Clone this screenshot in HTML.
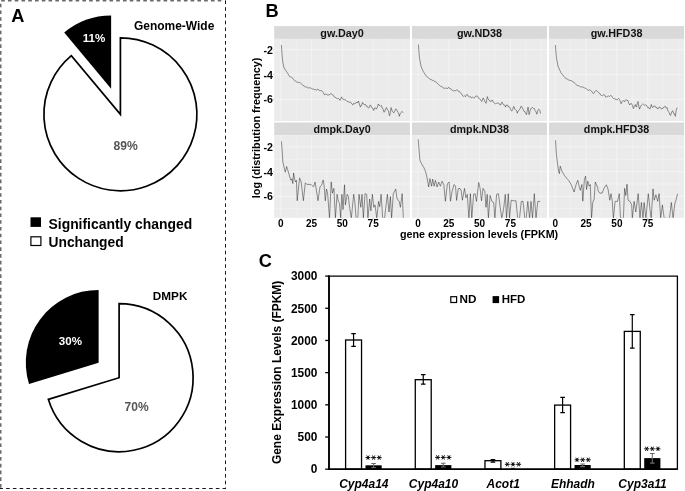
<!DOCTYPE html>
<html><head><meta charset="utf-8"><style>
html,body{margin:0;padding:0;background:#fff;width:685px;height:491px;overflow:hidden}
svg{display:block;will-change:transform}
text{font-family:"Liberation Sans", sans-serif;-webkit-font-smoothing:antialiased}
</style></head><body>
<svg width="685" height="491" viewBox="0 0 685 491">
<line x1="1.2" y1="0.75" x2="224" y2="0.75" stroke="#6a6a6a" stroke-width="1.5" stroke-dasharray="3.6 3.166"/>
<line x1="0.75" y1="3.7" x2="0.75" y2="488" stroke="#6a6a6a" stroke-width="1.5" stroke-dasharray="3.6 3.166"/>
<line x1="225.5" y1="0.4" x2="225.5" y2="489" stroke="#1a1a1a" stroke-width="1" stroke-dasharray="3.6 3.166"/>
<line x1="-0.666" y1="488.5" x2="226" y2="488.5" stroke="#1a1a1a" stroke-width="1" stroke-dasharray="3.6 3.166"/>
<path d="M120.40,114.30 L120.40,37.80 A76.5,76.5 0 1 1 71.33,55.61 Z" fill="#fff" stroke="#000" stroke-width="1.7" stroke-linejoin="miter"/>
<path d="M111.10,88.70 L64.21,32.62 A73.1,73.1 0 0 1 111.10,15.60 Z" fill="#000"/>
<path d="M119.10,377.70 L119.10,303.70 A74.0,74.0 0 1 1 48.33,399.34 Z" fill="#fff" stroke="#000" stroke-width="1.7" stroke-linejoin="miter"/>
<path d="M98.60,362.70 L28.98,383.98 A72.8,72.8 0 0 1 98.60,289.90 Z" fill="#000"/>
<text x="11.3" y="21.7" font-size="18.2" text-anchor="start" fill="#000" font-weight="bold" font-style="normal" >A</text>
<text x="94.0" y="41.7" font-size="11.6" text-anchor="middle" fill="#fff" font-weight="bold" font-style="normal" >11%</text>
<text x="125.6" y="149.8" font-size="12.5" text-anchor="middle" fill="#555" font-weight="bold" font-style="normal" textLength="24.3" lengthAdjust="spacingAndGlyphs" >89%</text>
<text x="134.0" y="29.8" font-size="12" text-anchor="start" fill="#000" font-weight="bold" font-style="normal" textLength="80.3" lengthAdjust="spacingAndGlyphs" >Genome-Wide</text>
<text x="70.4" y="344.8" font-size="11.6" text-anchor="middle" fill="#fff" font-weight="bold" font-style="normal" >30%</text>
<text x="136.6" y="411.3" font-size="12.5" text-anchor="middle" fill="#555" font-weight="bold" font-style="normal" textLength="24.0" lengthAdjust="spacingAndGlyphs" >70%</text>
<text x="152.8" y="299.6" font-size="11.8" text-anchor="start" fill="#000" font-weight="bold" font-style="normal" textLength="34.6" lengthAdjust="spacingAndGlyphs" >DMPK</text>
<rect x="30.5" y="217.3" width="10.5" height="9.6" fill="#000"/>
<rect x="30.9" y="236.8" width="10.0" height="8.7" fill="#fff" stroke="#000" stroke-width="1.2"/>
<text x="48.5" y="228.6" font-size="13.8" text-anchor="start" fill="#000" font-weight="bold" font-style="normal" textLength="143.7" lengthAdjust="spacingAndGlyphs" >Significantly changed</text>
<text x="48.5" y="246.6" font-size="13.8" text-anchor="start" fill="#000" font-weight="bold" font-style="normal" >Unchanged</text>
<rect x="274.2" y="26.1" width="135.70" height="12.80" fill="#d9d9d9"/>
<rect x="274.2" y="38.9" width="135.70" height="82.10" fill="#ebebeb"/>
<line x1="274.2" x2="409.9" y1="49.60" y2="49.60" stroke="#fff" stroke-opacity="0.38" stroke-width="1.1"/>
<line x1="274.2" x2="409.9" y1="74.50" y2="74.50" stroke="#fff" stroke-opacity="0.38" stroke-width="1.1"/>
<line x1="274.2" x2="409.9" y1="99.40" y2="99.40" stroke="#fff" stroke-opacity="0.38" stroke-width="1.1"/>
<line x1="296.15" x2="296.15" y1="38.9" y2="121.0" stroke="#fff" stroke-opacity="0.28" stroke-width="0.9"/>
<line x1="326.96" x2="326.96" y1="38.9" y2="121.0" stroke="#fff" stroke-opacity="0.28" stroke-width="0.9"/>
<line x1="357.77" x2="357.77" y1="38.9" y2="121.0" stroke="#fff" stroke-opacity="0.28" stroke-width="0.9"/>
<line x1="388.58" x2="388.58" y1="38.9" y2="121.0" stroke="#fff" stroke-opacity="0.28" stroke-width="0.9"/>
<line x1="403.99" x2="403.99" y1="38.9" y2="121.0" stroke="#fff" stroke-opacity="0.28" stroke-width="0.9"/>
<line x1="280.75" x2="280.75" y1="38.9" y2="121.0" stroke="#fff" stroke-opacity="0.38" stroke-width="1.1"/>
<line x1="311.56" x2="311.56" y1="38.9" y2="121.0" stroke="#fff" stroke-opacity="0.38" stroke-width="1.1"/>
<line x1="342.37" x2="342.37" y1="38.9" y2="121.0" stroke="#fff" stroke-opacity="0.38" stroke-width="1.1"/>
<line x1="373.18" x2="373.18" y1="38.9" y2="121.0" stroke="#fff" stroke-opacity="0.38" stroke-width="1.1"/>
<rect x="274.2" y="122.5" width="135.70" height="12.60" fill="#d9d9d9"/>
<rect x="274.2" y="135.1" width="135.70" height="82.70" fill="#ebebeb"/>
<line x1="274.2" x2="409.9" y1="159.28" y2="159.28" stroke="#fff" stroke-opacity="0.38" stroke-width="0.9"/>
<line x1="274.2" x2="409.9" y1="184.03" y2="184.03" stroke="#fff" stroke-opacity="0.38" stroke-width="0.9"/>
<line x1="274.2" x2="409.9" y1="208.78" y2="208.78" stroke="#fff" stroke-opacity="0.38" stroke-width="0.9"/>
<line x1="274.2" x2="409.9" y1="146.90" y2="146.90" stroke="#fff" stroke-opacity="0.38" stroke-width="1.1"/>
<line x1="274.2" x2="409.9" y1="171.65" y2="171.65" stroke="#fff" stroke-opacity="0.38" stroke-width="1.1"/>
<line x1="274.2" x2="409.9" y1="196.40" y2="196.40" stroke="#fff" stroke-opacity="0.38" stroke-width="1.1"/>
<line x1="296.15" x2="296.15" y1="135.1" y2="217.8" stroke="#fff" stroke-opacity="0.28" stroke-width="0.9"/>
<line x1="326.96" x2="326.96" y1="135.1" y2="217.8" stroke="#fff" stroke-opacity="0.28" stroke-width="0.9"/>
<line x1="357.77" x2="357.77" y1="135.1" y2="217.8" stroke="#fff" stroke-opacity="0.28" stroke-width="0.9"/>
<line x1="388.58" x2="388.58" y1="135.1" y2="217.8" stroke="#fff" stroke-opacity="0.28" stroke-width="0.9"/>
<line x1="403.99" x2="403.99" y1="135.1" y2="217.8" stroke="#fff" stroke-opacity="0.28" stroke-width="0.9"/>
<line x1="280.75" x2="280.75" y1="135.1" y2="217.8" stroke="#fff" stroke-opacity="0.38" stroke-width="1.1"/>
<line x1="311.56" x2="311.56" y1="135.1" y2="217.8" stroke="#fff" stroke-opacity="0.38" stroke-width="1.1"/>
<line x1="342.37" x2="342.37" y1="135.1" y2="217.8" stroke="#fff" stroke-opacity="0.38" stroke-width="1.1"/>
<line x1="373.18" x2="373.18" y1="135.1" y2="217.8" stroke="#fff" stroke-opacity="0.38" stroke-width="1.1"/>
<rect x="412.0" y="26.1" width="135.00" height="12.80" fill="#d9d9d9"/>
<rect x="412.0" y="38.9" width="135.00" height="82.10" fill="#ebebeb"/>
<line x1="412.0" x2="547.0" y1="49.60" y2="49.60" stroke="#fff" stroke-opacity="0.38" stroke-width="1.1"/>
<line x1="412.0" x2="547.0" y1="74.50" y2="74.50" stroke="#fff" stroke-opacity="0.38" stroke-width="1.1"/>
<line x1="412.0" x2="547.0" y1="99.40" y2="99.40" stroke="#fff" stroke-opacity="0.38" stroke-width="1.1"/>
<line x1="433.40" x2="433.40" y1="38.9" y2="121.0" stroke="#fff" stroke-opacity="0.28" stroke-width="0.9"/>
<line x1="464.21" x2="464.21" y1="38.9" y2="121.0" stroke="#fff" stroke-opacity="0.28" stroke-width="0.9"/>
<line x1="495.02" x2="495.02" y1="38.9" y2="121.0" stroke="#fff" stroke-opacity="0.28" stroke-width="0.9"/>
<line x1="525.84" x2="525.84" y1="38.9" y2="121.0" stroke="#fff" stroke-opacity="0.28" stroke-width="0.9"/>
<line x1="541.24" x2="541.24" y1="38.9" y2="121.0" stroke="#fff" stroke-opacity="0.28" stroke-width="0.9"/>
<line x1="418.00" x2="418.00" y1="38.9" y2="121.0" stroke="#fff" stroke-opacity="0.38" stroke-width="1.1"/>
<line x1="448.81" x2="448.81" y1="38.9" y2="121.0" stroke="#fff" stroke-opacity="0.38" stroke-width="1.1"/>
<line x1="479.62" x2="479.62" y1="38.9" y2="121.0" stroke="#fff" stroke-opacity="0.38" stroke-width="1.1"/>
<line x1="510.43" x2="510.43" y1="38.9" y2="121.0" stroke="#fff" stroke-opacity="0.38" stroke-width="1.1"/>
<rect x="412.0" y="122.5" width="135.00" height="12.60" fill="#d9d9d9"/>
<rect x="412.0" y="135.1" width="135.00" height="82.70" fill="#ebebeb"/>
<line x1="412.0" x2="547.0" y1="159.28" y2="159.28" stroke="#fff" stroke-opacity="0.38" stroke-width="0.9"/>
<line x1="412.0" x2="547.0" y1="184.03" y2="184.03" stroke="#fff" stroke-opacity="0.38" stroke-width="0.9"/>
<line x1="412.0" x2="547.0" y1="208.78" y2="208.78" stroke="#fff" stroke-opacity="0.38" stroke-width="0.9"/>
<line x1="412.0" x2="547.0" y1="146.90" y2="146.90" stroke="#fff" stroke-opacity="0.38" stroke-width="1.1"/>
<line x1="412.0" x2="547.0" y1="171.65" y2="171.65" stroke="#fff" stroke-opacity="0.38" stroke-width="1.1"/>
<line x1="412.0" x2="547.0" y1="196.40" y2="196.40" stroke="#fff" stroke-opacity="0.38" stroke-width="1.1"/>
<line x1="433.40" x2="433.40" y1="135.1" y2="217.8" stroke="#fff" stroke-opacity="0.28" stroke-width="0.9"/>
<line x1="464.21" x2="464.21" y1="135.1" y2="217.8" stroke="#fff" stroke-opacity="0.28" stroke-width="0.9"/>
<line x1="495.02" x2="495.02" y1="135.1" y2="217.8" stroke="#fff" stroke-opacity="0.28" stroke-width="0.9"/>
<line x1="525.84" x2="525.84" y1="135.1" y2="217.8" stroke="#fff" stroke-opacity="0.28" stroke-width="0.9"/>
<line x1="541.24" x2="541.24" y1="135.1" y2="217.8" stroke="#fff" stroke-opacity="0.28" stroke-width="0.9"/>
<line x1="418.00" x2="418.00" y1="135.1" y2="217.8" stroke="#fff" stroke-opacity="0.38" stroke-width="1.1"/>
<line x1="448.81" x2="448.81" y1="135.1" y2="217.8" stroke="#fff" stroke-opacity="0.38" stroke-width="1.1"/>
<line x1="479.62" x2="479.62" y1="135.1" y2="217.8" stroke="#fff" stroke-opacity="0.38" stroke-width="1.1"/>
<line x1="510.43" x2="510.43" y1="135.1" y2="217.8" stroke="#fff" stroke-opacity="0.38" stroke-width="1.1"/>
<rect x="549.0" y="26.1" width="135.10" height="12.80" fill="#d9d9d9"/>
<rect x="549.0" y="38.9" width="135.10" height="82.10" fill="#ebebeb"/>
<line x1="549.0" x2="684.1" y1="49.60" y2="49.60" stroke="#fff" stroke-opacity="0.38" stroke-width="1.1"/>
<line x1="549.0" x2="684.1" y1="74.50" y2="74.50" stroke="#fff" stroke-opacity="0.38" stroke-width="1.1"/>
<line x1="549.0" x2="684.1" y1="99.40" y2="99.40" stroke="#fff" stroke-opacity="0.38" stroke-width="1.1"/>
<line x1="570.70" x2="570.70" y1="38.9" y2="121.0" stroke="#fff" stroke-opacity="0.28" stroke-width="0.9"/>
<line x1="601.51" x2="601.51" y1="38.9" y2="121.0" stroke="#fff" stroke-opacity="0.28" stroke-width="0.9"/>
<line x1="632.32" x2="632.32" y1="38.9" y2="121.0" stroke="#fff" stroke-opacity="0.28" stroke-width="0.9"/>
<line x1="663.13" x2="663.13" y1="38.9" y2="121.0" stroke="#fff" stroke-opacity="0.28" stroke-width="0.9"/>
<line x1="678.54" x2="678.54" y1="38.9" y2="121.0" stroke="#fff" stroke-opacity="0.28" stroke-width="0.9"/>
<line x1="555.30" x2="555.30" y1="38.9" y2="121.0" stroke="#fff" stroke-opacity="0.38" stroke-width="1.1"/>
<line x1="586.11" x2="586.11" y1="38.9" y2="121.0" stroke="#fff" stroke-opacity="0.38" stroke-width="1.1"/>
<line x1="616.92" x2="616.92" y1="38.9" y2="121.0" stroke="#fff" stroke-opacity="0.38" stroke-width="1.1"/>
<line x1="647.73" x2="647.73" y1="38.9" y2="121.0" stroke="#fff" stroke-opacity="0.38" stroke-width="1.1"/>
<rect x="549.0" y="122.5" width="135.10" height="12.60" fill="#d9d9d9"/>
<rect x="549.0" y="135.1" width="135.10" height="82.70" fill="#ebebeb"/>
<line x1="549.0" x2="684.1" y1="159.28" y2="159.28" stroke="#fff" stroke-opacity="0.38" stroke-width="0.9"/>
<line x1="549.0" x2="684.1" y1="184.03" y2="184.03" stroke="#fff" stroke-opacity="0.38" stroke-width="0.9"/>
<line x1="549.0" x2="684.1" y1="208.78" y2="208.78" stroke="#fff" stroke-opacity="0.38" stroke-width="0.9"/>
<line x1="549.0" x2="684.1" y1="146.90" y2="146.90" stroke="#fff" stroke-opacity="0.38" stroke-width="1.1"/>
<line x1="549.0" x2="684.1" y1="171.65" y2="171.65" stroke="#fff" stroke-opacity="0.38" stroke-width="1.1"/>
<line x1="549.0" x2="684.1" y1="196.40" y2="196.40" stroke="#fff" stroke-opacity="0.38" stroke-width="1.1"/>
<line x1="570.70" x2="570.70" y1="135.1" y2="217.8" stroke="#fff" stroke-opacity="0.28" stroke-width="0.9"/>
<line x1="601.51" x2="601.51" y1="135.1" y2="217.8" stroke="#fff" stroke-opacity="0.28" stroke-width="0.9"/>
<line x1="632.32" x2="632.32" y1="135.1" y2="217.8" stroke="#fff" stroke-opacity="0.28" stroke-width="0.9"/>
<line x1="663.13" x2="663.13" y1="135.1" y2="217.8" stroke="#fff" stroke-opacity="0.28" stroke-width="0.9"/>
<line x1="678.54" x2="678.54" y1="135.1" y2="217.8" stroke="#fff" stroke-opacity="0.28" stroke-width="0.9"/>
<line x1="555.30" x2="555.30" y1="135.1" y2="217.8" stroke="#fff" stroke-opacity="0.38" stroke-width="1.1"/>
<line x1="586.11" x2="586.11" y1="135.1" y2="217.8" stroke="#fff" stroke-opacity="0.38" stroke-width="1.1"/>
<line x1="616.92" x2="616.92" y1="135.1" y2="217.8" stroke="#fff" stroke-opacity="0.38" stroke-width="1.1"/>
<line x1="647.73" x2="647.73" y1="135.1" y2="217.8" stroke="#fff" stroke-opacity="0.38" stroke-width="1.1"/>
<text x="342.05" y="36.50" font-size="10.2" text-anchor="middle" fill="#111" font-weight="bold" font-style="normal" textLength="43.4" lengthAdjust="spacingAndGlyphs" >gw.Day0</text>
<text x="479.50" y="36.50" font-size="10.2" text-anchor="middle" fill="#111" font-weight="bold" font-style="normal" textLength="45.2" lengthAdjust="spacingAndGlyphs" >gw.ND38</text>
<text x="616.55" y="36.50" font-size="10.2" text-anchor="middle" fill="#111" font-weight="bold" font-style="normal" textLength="51.7" lengthAdjust="spacingAndGlyphs" >gw.HFD38</text>
<text x="342.05" y="132.90" font-size="10.2" text-anchor="middle" fill="#111" font-weight="bold" font-style="normal" textLength="57.1" lengthAdjust="spacingAndGlyphs" >dmpk.Day0</text>
<text x="479.50" y="132.90" font-size="10.2" text-anchor="middle" fill="#111" font-weight="bold" font-style="normal" textLength="58.9" lengthAdjust="spacingAndGlyphs" >dmpk.ND38</text>
<text x="616.55" y="132.90" font-size="10.2" text-anchor="middle" fill="#111" font-weight="bold" font-style="normal" textLength="65.4" lengthAdjust="spacingAndGlyphs" >dmpk.HFD38</text>
<defs><clipPath id="c00"><rect x="274.2" y="38.9" width="135.70" height="82.10"/></clipPath><clipPath id="c01"><rect x="412.0" y="38.9" width="135.00" height="82.10"/></clipPath><clipPath id="c02"><rect x="549.0" y="38.9" width="135.10" height="82.10"/></clipPath><clipPath id="c10"><rect x="274.2" y="135.1" width="135.70" height="82.70"/></clipPath><clipPath id="c11"><rect x="412.0" y="135.1" width="135.00" height="82.70"/></clipPath><clipPath id="c12"><rect x="549.0" y="135.1" width="135.10" height="82.70"/></clipPath></defs>
<polyline clip-path="url(#c00)" points="281.4,45 282,54.3 282.8,62.1 283.8,67.1 284.55,68.5 285.3,69.9 286.35,71.35 287.4,72.8 288.45,74.6 289.5,76.4 290.47,76.87 291.43,77.33 292.4,77.8 293.45,79.2 294.5,80.6 295.47,81.1 296.43,81.9 297.4,82.1 298.45,82.57 299.5,82.5 300.4,82.96 301.3,83.81 302.2,84.48 303.1,85.6 304.03,85.87 304.97,86.81 305.9,87 306.87,87.11 307.83,87.88 308.8,88 309.73,87.75 310.67,87.99 311.6,88.5 312.57,89.11 313.53,88.99 314.5,89.6 315.55,89.59 316.6,90.2 317.35,89.32 318.1,89.2 318.8,90.3 319.5,90.6 320.43,90.54 321.37,90.7 322.3,91.3 323.4,92.67 324.5,94.9 325.55,94.12 326.6,94.2 327.3,95.07 328,94.9 328.97,94.91 329.93,94.38 330.9,93.5 331.95,93.98 333,95.6 333.97,95.95 334.93,97.5 335.9,97.7 336.83,98.55 337.77,98.78 338.7,98.5 339.35,99.06 340,100.4 340.75,99.07 341.5,96.9 342.05,98.07 342.6,98.4 343.35,99.67 344.1,99.9 345.1,99.49 346.1,100.4 347.15,101.47 348.2,101.5 349.2,102.38 350.2,102 351.2,102.7 352.0,104.29 352.8,105 353.55,103.54 354.3,103.7 355.35,103.57 356.4,102 357.4,103 358.4,101 359.4,104 360.4,107.1 360.95,105.82 361.5,105.5 362.5,102.5 363.25,104.01 364,104 364.75,104.85 365.5,104.5 366.3,106.19 367.1,106.1 367.85,107.59 368.6,108.1 369.35,107.21 370.1,105 370.9,105.56 371.7,107.6 372.7,108.16 373.7,110.5 374.5,108.16 375.3,107.6 376.3,109.1 377.3,107.28 378.3,104 379.1,105.32 379.9,105.5 380.65,106.25 381.4,105.5 382.15,108.08 382.9,108.6 383.9,112.2 384.7,111.69 385.5,109.1 386.5,107.6 387.5,110.1 388.5,110.7 389.05,114.23 389.6,115.8 390.35,112.68 391.1,107.6 392.1,110.7 393.1,112.2 393.9,112.87 394.7,111.2 395.7,109.1 396.45,109.25 397.2,110.7 398.2,112.7 398.75,113.76 399.3,116.3 400.05,113.89 400.8,112.7 401.67,111.88 402.53,111.88 403.4,112.5" fill="none" stroke="#111" stroke-width="0.45" stroke-linejoin="round"/>
<polyline clip-path="url(#c01)" points="418.4,44.4 419.3,56.9 420.1,61.35 420.9,65.8 421.9,68.3 422.9,70.8 423.9,72.43 424.9,74.07 425.9,75.7 426.9,76.55 427.9,77.4 428.9,78.25 429.9,79.1 430.88,79.5 431.85,79.9 432.82,80.54 433.8,80.7 434.8,81.68 435.8,81.79 436.8,82.7 437.8,83.91 438.8,84.83 439.8,85.6 440.8,86.4 441.8,86.42 442.8,87.63 443.8,88 444.77,88.48 445.75,88.09 446.73,88.12 447.7,88.6 448.7,87.2 449.7,88.5 450.7,88.63 451.7,90 452.7,90.48 453.7,90.88 454.7,90.6 455.7,90.68 456.7,90 457.67,90.05 458.63,91.46 459.6,91.6 460.6,93.23 461.6,93.77 462.6,95.6 463.6,96.36 464.6,95.82 465.6,96.6 466.6,94.6 467.6,94.8 468.6,96.56 469.6,97 470.58,96.68 471.55,98.15 472.52,97.19 473.5,98 474.5,97.85 475.5,96.2 476.5,96 477.25,95.91 478,96.9 478.75,98.49 479.5,98.9 480.55,99.54 481.6,101.5 482.35,100.35 483.1,97.9 483.85,98.94 484.6,100.9 485.4,102.63 486.2,103.3 486.8,99.16 487.4,96.6 488.05,98.84 488.7,99.9 489.5,100.01 490.3,101.5 491.3,101.3 492.3,99.9 493.35,102.28 494.4,103 495.4,103.72 496.4,103.5 497.4,102.85 498.4,103.3 499.2,103.54 500,105 500.77,104.85 501.53,102.51 502.3,102.3 503.2,104.5 504.1,105 504.85,105.17 505.6,107.1 506.35,105.12 507.1,105 507.9,105.32 508.7,107.1 509.45,106.88 510.2,108.1 510.95,110.2 511.7,111.2 512.65,109.55 513.6,106.4 514.2,106.85 514.8,109.1 515.8,110.1 516.55,110.59 517.3,113.2 518.1,111.03 518.9,110.1 519.9,109.24 520.9,106.4 521.95,106.85 523,109.1 524.0,111.34 525,111.7 525.75,113.86 526.5,114.7 527.3,110.31 528.1,107.1 529.1,114.7 530.1,110.7 530.85,108.49 531.6,108.1 532.65,107.49 533.7,108.6 534.45,108.55 535.2,110.7 536.0,111.83 536.8,114.2 537.8,110.7 538.55,109.37 539.3,109.6 539.9,110.59 540.5,113.7" fill="none" stroke="#111" stroke-width="0.45" stroke-linejoin="round"/>
<polyline clip-path="url(#c02)" points="555.4,45 556.3,56.9 557.1,61.35 557.9,65.8 558.9,68.1 559.9,70.4 560.9,72.7 561.9,73.95 562.9,75.2 563.9,76.45 564.9,77.7 565.9,78.3 566.9,78.9 567.9,79.5 568.9,80.1 569.87,80.3 570.83,80.69 571.8,80.7 572.8,81.86 573.8,82.11 574.8,83.3 575.8,84.4 576.8,85.16 577.8,85.6 578.8,85.84 579.8,86.3 580.8,87.2 581.77,86.87 582.73,86.96 583.7,87.2 584.7,88.22 585.7,88.19 586.7,89.2 587.7,89.94 588.7,90.32 589.7,89.8 590.7,90.6 591.7,91.29 592.7,92.86 593.7,93.6 594.7,91.7 595.7,90.6 596.67,90.79 597.63,91.54 598.6,92.6 599.6,93.12 600.6,95.04 601.6,95.6 602.6,95.55 603.6,94.6 604.6,94.94 605.6,96.93 606.6,97.2 607.58,96.21 608.55,95.94 609.52,96.48 610.5,95.6 611.5,95.78 612.5,97.47 613.5,98.47 614.5,98.6 615,99.4 615.75,98.95 616.5,99.9 617.55,99.57 618.6,98.4 619.43,99.43 620.27,101.27 621.1,103.7 622.15,101.51 623.2,100.4 623.95,101.41 624.7,101.5 625.45,99.98 626.2,99.4 627.0,100.72 627.8,100.4 628.8,103.26 629.8,105 630.6,103.67 631.4,103.5 632.4,105.3 633.4,108.6 634.4,105.96 635.4,104.5 635.95,106.45 636.5,107.1 637.25,103.67 638,101.5 638.75,106.0 639.5,109.1 640.55,106.53 641.6,105 642.62,104.0 643.65,104.37 644.68,105.36 645.7,104.8 646.7,105.57 647.7,107.6 648.7,107.42 649.7,109.1 650.5,107.53 651.3,104.5 652.05,106.94 652.8,107.6 653.55,106.17 654.3,106.1 655.1,106.08 655.9,107.6 656.9,107.66 657.9,109.1 658.95,107.19 660,107.1 661.0,108.71 662,109.1 663.0,107.74 664,107.6 664.8,106.25 665.6,106.6 666.35,108.28 667.1,107.6 668.15,111.3 669.2,112.7 669.95,114.97 670.7,115.3 671.7,112.08 672.7,110.7 673.8,113.7 674.55,113.84 675.3,116.3 676.3,109.6 676.9,108.09 677.5,108.1" fill="none" stroke="#111" stroke-width="0.45" stroke-linejoin="round"/>
<polyline clip-path="url(#c10)" points="281.4,141.3 282.2,151 282.8,161.6 284.1,167.3 285.3,172.2 286.6,166.5 288.2,171.4 289.8,177.1 291,180.3 292,178.7 292.8,183.6 293.6,173 294.7,179.5 295.5,182 296.4,180.3 297.2,200.7 299.6,177.9 301.2,182 303.4,200.7 305.3,182.8 306.9,184.4 311,184.4 313.5,186.9 315.1,182 318,200.7 320,186.9 321.6,185.2 323.2,180 324.1,185.4 325.3,200.8 326.5,189 327.7,194.3 329.5,218.3 331.2,181.9 332.4,193.1 333.9,188.4 335.4,218.3 337.1,194.3 338.3,201.4 339.5,203.1 340.7,218.3 341.9,194.3 343,209.6 344.5,184.8 345.4,204.9 347.2,194.3 348.4,196.6 349.6,207.3 351.3,218.3 353.7,194.3 354.9,202.6 356.1,218.3 357.8,218.3 359,194.3 360.8,207.3 362,194.3 363.4,218.3 365,193.7 366.7,194.3 367.9,218.3 369.7,199 370.9,210.8 372.4,194.3 373.8,207.3 375,204.9 376.8,218.3 378.5,201.4 379.7,206.7 381.1,194.3 382.7,218.3 384.5,218.3 387.4,194.3 389,212 390.4,196.6 391.6,218.3 393.3,193.7 395.7,189 396.9,197.8 398.1,200.2 399.2,201.4 400.4,207.3 402.2,193.7 403.4,218.3" fill="none" stroke="#111" stroke-width="0.45" stroke-linejoin="round"/>
<polyline clip-path="url(#c11)" points="418.2,139.3 419,149.4 419.9,160.2 421.5,163.6 424,167.8 425.7,172 427,177.8 428.7,187 429.9,178.6 431.6,186.2 432.7,179.1 434.1,186.2 435.4,180.3 437.1,187 438.7,182 440.4,186.2 442.1,181.2 443.8,184.5 445.4,201.2 447.4,183.7 449.1,182 450.5,201.2 452.1,191.2 454.1,184.5 455.5,186.2 456.6,200.4 458.3,188.7 460,188.4 461.2,190.7 462.4,200.2 464.5,188.4 465.9,197.8 467.3,194.3 468.9,218.3 470.4,193.7 471.8,218.3 473.6,194.3 475.1,193.7 476.5,201.4 478.7,182.5 480.1,188.4 481.5,200.8 483,188.4 484.8,191.3 486,207.3 487.2,194.3 488.4,218.3 490.1,195.5 491.9,201.4 493.7,202.6 494.9,218.3 496.6,194.3 498.4,193.7 500.2,207.3 501.8,218.3 503.5,209.6 505.3,194.3 506.5,218.3 508.3,193.7 509.5,218.3 511.2,200.2 513.6,200.8 516,200.8 517.7,218.3 519.5,218.3 521.3,201.4 523,201.4 524.8,218.3 526.2,218.3 527.8,201.4 529.6,218.3 531,201.4 532.5,218.3 534.3,193.7 536,218.3 537.8,201.4 540.2,201.4" fill="none" stroke="#111" stroke-width="0.45" stroke-linejoin="round"/>
<polyline clip-path="url(#c12)" points="555.5,140.2 556.4,154.4 557.4,162.8 558.5,171.1 559.4,173.6 560.2,166.1 561.9,171.1 564.4,175.3 566.9,178.6 568.6,180.3 570.2,182.8 571.9,186.2 574.1,192 576.1,184.5 577.8,180.3 579.1,186.2 580.3,190.3 581.9,184.5 582.8,201.2 584.4,179.5 585.6,176.1 586.6,189.5 587.8,181.2 589.1,186.2 590.3,184.5 591.5,218.3 592.8,202.1 594.1,199.5 595.3,182 597.8,187.8 598,190.7 599.8,193.1 602.1,193.1 603.9,188.4 606.3,184.8 608,189 609.8,200.2 611,193.7 612.2,200.2 613.4,218.3 615.1,201.4 617.5,201.4 619.3,193.7 620.5,218.3 622.2,218.3 623.4,218.3 624.6,188.4 625.8,195.5 627,184.2 628.1,200.2 629.9,201.4 631.7,204.9 632.3,218.3 634.1,201.4 635.8,212 638.2,193.7 640,218.3 641.4,202.5 643,218.3 644.1,202.5 645.9,218.3 648.3,193.7 650,209.6 651.2,218.3 653,188.9 654.2,200.2 655.9,194.8 657.7,201.3 659.1,193.7 660.7,218.3 662.4,204.9 664.2,218.3 669.5,218.3 671.3,202.5 673.1,218.3 674.8,203.7 676,200.2 677.6,193.7" fill="none" stroke="#111" stroke-width="0.45" stroke-linejoin="round"/>
<text x="273.0" y="53.60" font-size="10.6" text-anchor="end" fill="#000" font-weight="bold" font-style="normal" >-2</text>
<line x1="272.9" x2="274.2" y1="49.60" y2="49.60" stroke="#999" stroke-width="0.5"/>
<text x="273.0" y="78.50" font-size="10.6" text-anchor="end" fill="#000" font-weight="bold" font-style="normal" >-4</text>
<line x1="272.9" x2="274.2" y1="74.50" y2="74.50" stroke="#999" stroke-width="0.5"/>
<text x="273.0" y="103.40" font-size="10.6" text-anchor="end" fill="#000" font-weight="bold" font-style="normal" >-6</text>
<line x1="272.9" x2="274.2" y1="99.40" y2="99.40" stroke="#999" stroke-width="0.5"/>
<text x="273.0" y="150.90" font-size="10.6" text-anchor="end" fill="#000" font-weight="bold" font-style="normal" >-2</text>
<line x1="272.9" x2="274.2" y1="146.90" y2="146.90" stroke="#999" stroke-width="0.5"/>
<text x="273.0" y="175.70" font-size="10.6" text-anchor="end" fill="#000" font-weight="bold" font-style="normal" >-4</text>
<line x1="272.9" x2="274.2" y1="171.70" y2="171.70" stroke="#999" stroke-width="0.5"/>
<text x="273.0" y="200.40" font-size="10.6" text-anchor="end" fill="#000" font-weight="bold" font-style="normal" >-6</text>
<line x1="272.9" x2="274.2" y1="196.40" y2="196.40" stroke="#999" stroke-width="0.5"/>
<text x="280.75" y="226.6" font-size="10" text-anchor="middle" fill="#000" font-weight="bold" font-style="normal" >0</text>
<line x1="280.75" x2="280.75" y1="217.8" y2="219.0" stroke="#999" stroke-width="0.5"/>
<text x="311.56" y="226.6" font-size="10" text-anchor="middle" fill="#000" font-weight="bold" font-style="normal" >25</text>
<line x1="311.56" x2="311.56" y1="217.8" y2="219.0" stroke="#999" stroke-width="0.5"/>
<text x="342.37" y="226.6" font-size="10" text-anchor="middle" fill="#000" font-weight="bold" font-style="normal" >50</text>
<line x1="342.37" x2="342.37" y1="217.8" y2="219.0" stroke="#999" stroke-width="0.5"/>
<text x="373.18" y="226.6" font-size="10" text-anchor="middle" fill="#000" font-weight="bold" font-style="normal" >75</text>
<line x1="373.18" x2="373.18" y1="217.8" y2="219.0" stroke="#999" stroke-width="0.5"/>
<text x="418.00" y="226.6" font-size="10" text-anchor="middle" fill="#000" font-weight="bold" font-style="normal" >0</text>
<line x1="418.00" x2="418.00" y1="217.8" y2="219.0" stroke="#999" stroke-width="0.5"/>
<text x="448.81" y="226.6" font-size="10" text-anchor="middle" fill="#000" font-weight="bold" font-style="normal" >25</text>
<line x1="448.81" x2="448.81" y1="217.8" y2="219.0" stroke="#999" stroke-width="0.5"/>
<text x="479.62" y="226.6" font-size="10" text-anchor="middle" fill="#000" font-weight="bold" font-style="normal" >50</text>
<line x1="479.62" x2="479.62" y1="217.8" y2="219.0" stroke="#999" stroke-width="0.5"/>
<text x="510.43" y="226.6" font-size="10" text-anchor="middle" fill="#000" font-weight="bold" font-style="normal" >75</text>
<line x1="510.43" x2="510.43" y1="217.8" y2="219.0" stroke="#999" stroke-width="0.5"/>
<text x="555.30" y="226.6" font-size="10" text-anchor="middle" fill="#000" font-weight="bold" font-style="normal" >0</text>
<line x1="555.30" x2="555.30" y1="217.8" y2="219.0" stroke="#999" stroke-width="0.5"/>
<text x="586.11" y="226.6" font-size="10" text-anchor="middle" fill="#000" font-weight="bold" font-style="normal" >25</text>
<line x1="586.11" x2="586.11" y1="217.8" y2="219.0" stroke="#999" stroke-width="0.5"/>
<text x="616.92" y="226.6" font-size="10" text-anchor="middle" fill="#000" font-weight="bold" font-style="normal" >50</text>
<line x1="616.92" x2="616.92" y1="217.8" y2="219.0" stroke="#999" stroke-width="0.5"/>
<text x="647.73" y="226.6" font-size="10" text-anchor="middle" fill="#000" font-weight="bold" font-style="normal" >75</text>
<line x1="647.73" x2="647.73" y1="217.8" y2="219.0" stroke="#999" stroke-width="0.5"/>
<text x="265.6" y="16.8" font-size="18.2" text-anchor="start" fill="#000" font-weight="bold" font-style="normal" >B</text>
<text x="479.1" y="237.6" font-size="11" text-anchor="middle" fill="#000" font-weight="bold" font-style="normal" textLength="158.2" lengthAdjust="spacingAndGlyphs" >gene expression levels (FPKM)</text>
<text transform="translate(260.0,127.9) rotate(-90)" x="0" y="0" font-size="11" text-anchor="middle" font-weight="bold" fill="#000" textLength="140.6" lengthAdjust="spacingAndGlyphs">log (distribution frequency)</text>
<text x="258.8" y="266.5" font-size="18.2" text-anchor="start" fill="#000" font-weight="bold" font-style="normal" >C</text>
<line x1="325.2" x2="329.0" y1="469.20" y2="469.20" stroke="#000" stroke-width="1.3"/>
<text x="317.4" y="473.46" font-size="11.9" text-anchor="end" fill="#000" font-weight="bold" font-style="normal" >0</text>
<line x1="325.2" x2="329.0" y1="437.02" y2="437.02" stroke="#000" stroke-width="1.3"/>
<text x="317.4" y="441.28" font-size="11.9" text-anchor="end" fill="#000" font-weight="bold" font-style="normal" >500</text>
<line x1="325.2" x2="329.0" y1="404.83" y2="404.83" stroke="#000" stroke-width="1.3"/>
<text x="317.4" y="409.09" font-size="11.9" text-anchor="end" fill="#000" font-weight="bold" font-style="normal" >1000</text>
<line x1="325.2" x2="329.0" y1="372.65" y2="372.65" stroke="#000" stroke-width="1.3"/>
<text x="317.4" y="376.91" font-size="11.9" text-anchor="end" fill="#000" font-weight="bold" font-style="normal" >1500</text>
<line x1="325.2" x2="329.0" y1="340.47" y2="340.47" stroke="#000" stroke-width="1.3"/>
<text x="317.4" y="344.73" font-size="11.9" text-anchor="end" fill="#000" font-weight="bold" font-style="normal" >2000</text>
<line x1="325.2" x2="329.0" y1="308.28" y2="308.28" stroke="#000" stroke-width="1.3"/>
<text x="317.4" y="312.54" font-size="11.9" text-anchor="end" fill="#000" font-weight="bold" font-style="normal" >2500</text>
<line x1="325.2" x2="329.0" y1="276.10" y2="276.10" stroke="#000" stroke-width="1.3"/>
<text x="317.4" y="280.36" font-size="11.9" text-anchor="end" fill="#000" font-weight="bold" font-style="normal" >3000</text>
<rect x="345.60" y="340.00" width="15.94" height="129.20" fill="#fff" stroke="#000" stroke-width="1.3"/>
<rect x="365.49" y="465.30" width="16.2" height="3.90" fill="#000"/>
<path d="M353.57,333.6 V346.3 M351.27,333.6 H355.87 M351.27,346.3 H355.87" stroke="#000" stroke-width="1.2" fill="none"/>
<path d="M373.59,463.5 V467.6 M371.29,463.5 H375.89 M371.29,467.6 H375.89" stroke="#6a6a6a" stroke-width="1.1" fill="none"/>
<path d="M365.49,457.60 H370.39 M366.71,455.48 L369.17,459.72 M366.71,459.72 L369.17,455.48" stroke="#000" stroke-width="0.95" fill="none"/>
<path d="M371.14,457.60 H376.04 M372.36,455.48 L374.81,459.72 M372.36,459.72 L374.81,455.48" stroke="#000" stroke-width="0.95" fill="none"/>
<path d="M376.79,457.60 H381.69 M378.01,455.48 L380.46,459.72 M378.01,459.72 L380.46,455.48" stroke="#000" stroke-width="0.95" fill="none"/>
<text x="363.84" y="487.5" font-size="12" text-anchor="middle" fill="#000" font-weight="bold" font-style="italic" >Cyp4a14</text>
<rect x="415.28" y="379.70" width="15.94" height="89.50" fill="#fff" stroke="#000" stroke-width="1.3"/>
<rect x="435.17" y="465.10" width="16.2" height="4.10" fill="#000"/>
<path d="M423.25,374.7 V384.2 M420.95,374.7 H425.55 M420.95,384.2 H425.55" stroke="#000" stroke-width="1.2" fill="none"/>
<path d="M443.27,463.2 V467.0 M440.97,463.2 H445.57 M440.97,467.0 H445.57" stroke="#6a6a6a" stroke-width="1.1" fill="none"/>
<path d="M435.17,457.40 H440.07 M436.39,455.28 L438.85,459.52 M436.39,459.52 L438.85,455.28" stroke="#000" stroke-width="0.95" fill="none"/>
<path d="M440.82,457.40 H445.72 M442.04,455.28 L444.50,459.52 M442.04,459.52 L444.50,455.28" stroke="#000" stroke-width="0.95" fill="none"/>
<path d="M446.47,457.40 H451.37 M447.69,455.28 L450.14,459.52 M447.69,459.52 L450.14,455.28" stroke="#000" stroke-width="0.95" fill="none"/>
<text x="433.52" y="487.5" font-size="12" text-anchor="middle" fill="#000" font-weight="bold" font-style="italic" >Cyp4a10</text>
<rect x="484.96" y="460.70" width="15.94" height="8.50" fill="#fff" stroke="#000" stroke-width="1.3"/>
<rect x="504.85" y="468.90" width="16.2" height="0.30" fill="#000"/>
<path d="M492.93,459.6 V462.2 M490.63,459.6 H495.23 M490.63,462.2 H495.23" stroke="#000" stroke-width="1.2" fill="none"/>
<path d="M512.95,468.4 V469.2 M510.65,468.4 H515.25 M510.65,469.2 H515.25" stroke="#6a6a6a" stroke-width="1.1" fill="none"/>
<path d="M504.85,464.30 H509.75 M506.08,462.18 L508.53,466.42 M506.08,466.42 L508.53,462.18" stroke="#000" stroke-width="0.95" fill="none"/>
<path d="M510.50,464.30 H515.40 M511.73,462.18 L514.18,466.42 M511.73,466.42 L514.18,462.18" stroke="#000" stroke-width="0.95" fill="none"/>
<path d="M516.15,464.30 H521.05 M517.38,462.18 L519.83,466.42 M517.38,466.42 L519.83,462.18" stroke="#000" stroke-width="0.95" fill="none"/>
<text x="503.20" y="487.5" font-size="12" text-anchor="middle" fill="#000" font-weight="bold" font-style="italic" >Acot1</text>
<rect x="554.64" y="405.10" width="15.94" height="64.10" fill="#fff" stroke="#000" stroke-width="1.3"/>
<rect x="574.53" y="465.00" width="16.2" height="4.20" fill="#000"/>
<path d="M562.61,397.4 V412.6 M560.31,397.4 H564.91 M560.31,412.6 H564.91" stroke="#000" stroke-width="1.2" fill="none"/>
<path d="M582.63,464.0 V466.6 M580.33,464.0 H584.93 M580.33,466.6 H584.93" stroke="#6a6a6a" stroke-width="1.1" fill="none"/>
<path d="M574.53,459.80 H579.43 M575.75,457.68 L578.21,461.92 M575.75,461.92 L578.21,457.68" stroke="#000" stroke-width="0.95" fill="none"/>
<path d="M580.18,459.80 H585.08 M581.40,457.68 L583.86,461.92 M581.40,461.92 L583.86,457.68" stroke="#000" stroke-width="0.95" fill="none"/>
<path d="M585.83,459.80 H590.73 M587.05,457.68 L589.50,461.92 M587.05,461.92 L589.50,457.68" stroke="#000" stroke-width="0.95" fill="none"/>
<text x="572.88" y="487.5" font-size="12" text-anchor="middle" fill="#000" font-weight="bold" font-style="italic" >Ehhadh</text>
<rect x="624.32" y="331.40" width="15.94" height="137.80" fill="#fff" stroke="#000" stroke-width="1.3"/>
<rect x="644.21" y="458.10" width="16.2" height="11.10" fill="#000"/>
<path d="M632.29,314.6 V348.2 M629.99,314.6 H634.59 M629.99,348.2 H634.59" stroke="#000" stroke-width="1.2" fill="none"/>
<path d="M652.31,453.5 V463.1 M650.01,453.5 H654.61 M650.01,463.1 H654.61" stroke="#6a6a6a" stroke-width="1.1" fill="none"/>
<path d="M644.21,448.80 H649.11 M645.43,446.68 L647.88,450.92 M645.43,450.92 L647.88,446.68" stroke="#000" stroke-width="0.95" fill="none"/>
<path d="M649.86,448.80 H654.76 M651.08,446.68 L653.53,450.92 M651.08,450.92 L653.53,446.68" stroke="#000" stroke-width="0.95" fill="none"/>
<path d="M655.51,448.80 H660.41 M656.73,446.68 L659.18,450.92 M656.73,450.92 L659.18,446.68" stroke="#000" stroke-width="0.95" fill="none"/>
<text x="642.56" y="487.5" font-size="12" text-anchor="middle" fill="#000" font-weight="bold" font-style="italic" >Cyp3a11</text>
<path d="M329.0,276.1 H677.4 V469.2 H329.0 Z" fill="none" stroke="#000" stroke-width="1.3"/>
<line x1="329.0" x2="329.0" y1="275.5" y2="469.8" stroke="#000" stroke-width="1.7"/>
<line x1="329.0" x2="677.4" y1="469.3" y2="469.3" stroke="#000" stroke-width="1.5"/>
<rect x="450.8" y="296.7" width="5.8" height="5.8" fill="#fff" stroke="#000" stroke-width="1.2"/>
<text x="459.5" y="303.3" font-size="11.2" text-anchor="start" fill="#000" font-weight="bold" font-style="normal" textLength="16.9" lengthAdjust="spacingAndGlyphs" >ND</text>
<rect x="492.6" y="296.1" width="6.5" height="7" fill="#000"/>
<text x="501.8" y="303.3" font-size="11.2" text-anchor="start" fill="#000" font-weight="bold" font-style="normal" textLength="23.6" lengthAdjust="spacingAndGlyphs" >HFD</text>
<text transform="translate(280.6,372.4) rotate(-90)" x="0" y="0" font-size="12" text-anchor="middle" font-weight="bold" fill="#000" textLength="183.4" lengthAdjust="spacingAndGlyphs">Gene Expression Levels (FPKM)</text>
</svg>
</body></html>
